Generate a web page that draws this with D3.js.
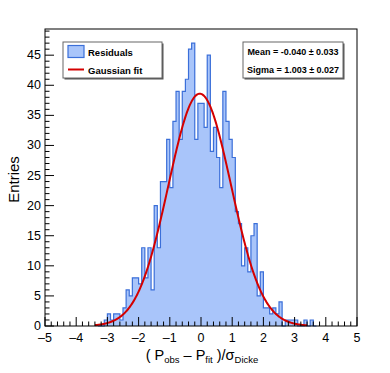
<!DOCTYPE html>
<html>
<head>
<meta charset="utf-8">
<script src="https://cdn.jsdelivr.net/npm/d3@7"></script>
<style>
  body { margin: 0; background: #fff; }
  svg { display: block; font-family: "Liberation Sans", Arial, sans-serif; }
</style>
</head>
<body>
<svg id="chart"></svg>
<script>
// bin lower edges (width 0.1) and counts
const binWidth = 0.1;
const binStart = [-3.3, -3.2, -3.1, -3.0, -2.9, -2.8, -2.7, -2.6, -2.5, -2.4,
                  -2.3, -2.2, -2.1, -2.0, -1.9, -1.8, -1.7, -1.6, -1.5, -1.4,
                  -1.3, -1.2, -1.1, -1.0, -0.9, -0.8, -0.7, -0.6, -0.5, -0.4,
                  -0.3, -0.2, -0.1, 0.0, 0.1, 0.2, 0.3, 0.4, 0.5, 0.6,
                  0.7, 0.8, 0.9, 1.0, 1.1, 1.2, 1.3, 1.4, 1.5, 1.6,
                  1.7, 1.8, 1.9, 2.0, 2.1, 2.2, 2.3, 2.4, 2.5, 2.6,
                  2.7, 2.8, 2.9, 3.0, 3.1, 3.2, 3.3, 3.4, 3.5, 3.6];
const counts = [0, 0, 1, 2, 1, 2, 2, 1, 3, 6,
                5, 8, 8, 7, 13, 8, 13, 6, 20, 13,
                24, 24, 31, 23, 34, 39, 31, 39, 41, 46,
                47, 31, 37, 37, 33, 45, 29, 33, 28, 23,
                39, 34, 31, 28, 19, 17, 10, 13, 9, 15,
                17, 5, 9, 3, 3, 2, 3, 2, 4, 0,
                1, 1, 1, 1, 0, 0, 1, 0, 1, 0];

// fit result
const fitMean = -0.040, fitSigma = 1.003, fitAmp = 38.6;
const fitRange = [-3.4, 3.4];
const statLines = ["Mean = -0.040 \u00b1 0.033", "Sigma = 1.003 \u00b1 0.027"];
const legendLabels = ["Residuals", "Gaussian fit"];
const xTicks = [-5, -4, -3, -2, -1, 0, 1, 2, 3, 4, 5];
const yTicks = [0, 5, 10, 15, 20, 25, 30, 35, 40, 45];

const W = 390, H = 373;
const margin = {top: 29, right: 33, bottom: 47, left: 45};
const width = W - margin.left - margin.right,
      height = H - margin.top - margin.bottom;

const svg = d3.select("#chart").attr("width", W).attr("height", H);
const g = svg.append("g").attr("transform", `translate(${margin.left},${margin.top})`);

const x = d3.scaleLinear().domain([-5, 5]).range([0, width]);
const y = d3.scaleLinear().domain([0, 49.35]).range([height, 0]);

const fillColor = "#a9c5fa", lineColor = "#3b6fd9", red = "#d40000";

// histogram fill + outline (step)
const hist = binStart.map((b, i) => ({x0: b, x1: b + binWidth, n: counts[i]}));
const area = [];
hist.forEach(d => { area.push([d.x0, d.n]); area.push([d.x1, d.n]); });
g.append("path")
  .datum(area)
  .attr("fill", fillColor)
  .attr("d", d3.area().x(d => x(d[0])).y0(y(0)).y1(d => y(d[1])));
g.append("path")
  .datum([[hist[0].x0, 0]].concat(area, [[hist[hist.length - 1].x1, 0]]))
  .attr("fill", "none")
  .attr("stroke", lineColor)
  .attr("stroke-width", 1.2)
  .attr("d", d3.line().x(d => x(d[0])).y(d => y(d[1])));

// gaussian fit curve
const fitPts = d3.range(fitRange[0], fitRange[1] + 0.001, 0.02)
  .map(v => [v, fitAmp * Math.exp(-0.5 * Math.pow((v - fitMean) / fitSigma, 2))]);
g.append("path")
  .datum(fitPts)
  .attr("fill", "none")
  .attr("stroke", red)
  .attr("stroke-width", 2)
  .attr("d", d3.line().x(d => x(d[0])).y(d => y(d[1])));

// frame
g.append("rect")
  .attr("width", width).attr("height", height)
  .attr("fill", "none").attr("stroke", "#000").attr("stroke-width", 1);

// x axis ticks (inside, pointing up)
const xMinor = d3.range(-5, 5.001, 0.2);
g.append("g").selectAll("line").data(xMinor).join("line")
  .attr("x1", d => x(d)).attr("x2", d => x(d))
  .attr("y1", height).attr("y2", d => height - (Math.abs(d - Math.round(d)) < 1e-6 ? 9 : 4.5))
  .attr("stroke", "#000");
g.append("g").selectAll("text").data(xTicks).join("text")
  .attr("x", d => x(d)).attr("y", height + 15.5)
  .attr("text-anchor", "middle").attr("font-size", 12.5)
  .text(d => d < 0 ? "\u2013" + Math.abs(d) : d);

// y axis ticks (inside, pointing right)
const yMinor = d3.range(0, 49.01, 1);
g.append("g").selectAll("line").data(yMinor).join("line")
  .attr("x1", 0).attr("x2", d => d % 5 === 0 ? 9 : 4.5)
  .attr("y1", d => y(d)).attr("y2", d => y(d))
  .attr("stroke", "#000");
g.append("g").selectAll("text").data(yTicks).join("text")
  .attr("x", -4).attr("y", d => y(d) + 4)
  .attr("text-anchor", "end").attr("font-size", 12.5)
  .text(d => d);

// axis titles
svg.append("text")
  .attr("transform", `translate(19,${margin.top + height / 2 + 2}) rotate(-90)`)
  .attr("text-anchor", "middle").attr("font-size", 15)
  .text("Entries");
const xt = svg.append("text")
  .attr("x", margin.left + width / 2 + 1).attr("y", H - 13)
  .attr("text-anchor", "middle").attr("font-size", 14.5);
xt.append("tspan").text("( P");
xt.append("tspan").attr("font-size", 9.5).attr("dy", 3).text("obs");
xt.append("tspan").attr("dy", -3).text(" \u2013 P");
xt.append("tspan").attr("font-size", 9.5).attr("dy", 3).text("fit");
xt.append("tspan").attr("dy", -3).text(" )/\u03c3");
xt.append("tspan").attr("font-size", 9.5).attr("dy", 3).text("Dicke");

// legend box
const lg = svg.append("g").attr("transform", "translate(63,42)");
lg.append("rect").attr("x", 1.5).attr("y", 1.5).attr("width", 99).attr("height", 36).attr("fill", "#555");
lg.append("rect").attr("width", 99).attr("height", 36)
  .attr("fill", "#fff").attr("stroke", "#666").attr("stroke-width", 1);
lg.append("rect").attr("x", 5).attr("y", 3.5).attr("width", 16).attr("height", 12)
  .attr("fill", fillColor).attr("stroke", lineColor).attr("stroke-width", 1.2);
lg.append("line").attr("x1", 5).attr("x2", 21).attr("y1", 27.5).attr("y2", 27.5)
  .attr("stroke", red).attr("stroke-width", 2);
lg.selectAll("text.l").data(legendLabels).join("text")
  .attr("class", "l")
  .attr("x", 25).attr("y", (d, i) => 14 + i * 18)
  .attr("font-size", 9.5).attr("font-weight", "bold")
  .text(d => d);

// stats box
const sb = svg.append("g").attr("transform", "translate(243,42)");
sb.append("rect").attr("x", 1.5).attr("y", 1.5).attr("width", 100).attr("height", 36).attr("fill", "#555");
sb.append("rect").attr("width", 100).attr("height", 36)
  .attr("fill", "#fff").attr("stroke", "#666").attr("stroke-width", 1);
sb.selectAll("text").data(statLines).join("text")
  .attr("x", 50).attr("y", (d, i) => 13 + i * 18)
  .attr("text-anchor", "middle")
  .attr("font-size", 9).attr("font-weight", "bold")
  .text(d => d);
</script>
</body>
</html>
